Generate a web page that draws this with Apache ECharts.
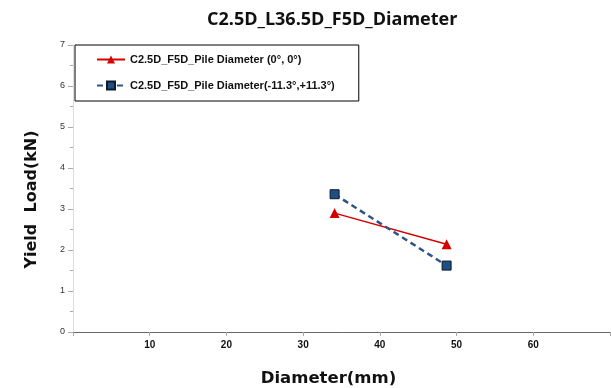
<!DOCTYPE html>
<html><head><meta charset="utf-8">
<script src="https://cdn.jsdelivr.net/npm/echarts@6/dist/echarts.min.js"></script>
<style>html,body{margin:0;padding:0;background:#fff}#c{width:611px;height:388px}</style>
</head><body><div id="c"></div>
<script>
var titleText = 'C2.5D_L36.5D_F5D_Diameter';
var xName = 'Diameter(mm)';
var yName = 'Yield  Load(kN)';
var seriesNames = ['C2.5D_F5D_Pile Diameter (0°, 0°)', 'C2.5D_F5D_Pile Diameter(-11.3°,+11.3°)'];
var diameters = [34.1, 48.7];
var loadFlat = [2.9, 2.14];
var loadInclined = [3.36, 1.62];
var xTicks = [10, 20, 30, 40, 50, 60];

var chart = echarts.init(document.getElementById('c'));
var font = 'Liberation Sans, Arial, sans-serif';
chart.setOption({
  animation: false,
  title: {text: titleText, left: 207, top: 11, padding: 0, textStyle: {fontFamily: 'Open Sans, sans-serif', fontWeight: 'bold', fontSize: 18, color: '#111'}},
  grid: {left: 73, right: 1, top: 45, bottom: 56, containLabel: false, outerBoundsMode: 'none'},
  legend: {
    orient: 'vertical', left: 75, top: 45,
    padding: [9, 24, 10, 21], itemGap: 15, itemWidth: 28, itemHeight: 10,
    borderColor: '#000', borderWidth: 1, borderRadius: 0, backgroundColor: '#fff',
    textStyle: {fontFamily: font, fontWeight: 'bold', fontSize: 11, color: '#111'},
    data: seriesNames
  },
  xAxis: [{
    type: 'value', min: 0, max: 70, interval: 10,
    name: xName, nameLocation: 'middle', nameGap: 38,
    nameTextStyle: {fontFamily: 'DejaVu Sans, sans-serif', fontWeight: 'bold', fontSize: 16.5, color: '#111', padding: [0, 26, 0, 0]},
    axisLine: {lineStyle: {color: '#aaa', width: 1}},
    axisTick: {show: true, length: 4, lineStyle: {color: '#aaa'}},
    axisLabel: {fontFamily: font, fontWeight: 'bold', fontSize: 10, color: '#111', margin: 8,
      formatter: function (v) { return xTicks.indexOf(v) >= 0 ? String(v) : ''; }},
    splitLine: {show: false}
  }, {
    type: 'value', position: 'top', min: 0, max: 70,
    axisLine: {show: true, lineStyle: {color: '#666', width: 1}},
    axisTick: {show: false}, axisLabel: {show: false}, splitLine: {show: false}
  }],
  yAxis: [{
    type: 'value', min: 0, max: 7, interval: 1,
    name: yName, nameLocation: 'middle', nameGap: 33, nameRotate: 90,
    nameTextStyle: {fontFamily: 'DejaVu Sans, sans-serif', fontWeight: 'bold', fontSize: 16, color: '#111', padding: [0, 22, 0, 0]},
    axisLine: {show: true, lineStyle: {color: '#aaa', width: 1}},
    axisTick: {show: true, length: 5, lineStyle: {color: '#aaa'}},
    minorTick: {show: true, splitNumber: 2, length: 3, lineStyle: {color: '#aaa'}},
    axisLabel: {fontFamily: font, fontSize: 9, color: '#333', margin: 8},
    splitLine: {show: false}
  }, {
    type: 'value', position: 'right', min: 0, max: 7,
    axisLine: {show: true, lineStyle: {color: '#ddd', width: 1}},
    axisTick: {show: false}, axisLabel: {show: false}, splitLine: {show: false}
  }],
  series: [{
    name: seriesNames[0], type: 'line',
    data: diameters.map(function (d, i) { return [d, loadFlat[i]]; }),
    symbol: 'triangle', symbolSize: 10,
    itemStyle: {color: '#d40000'},
    lineStyle: {color: '#d40000', width: 1.5}
  }, {
    name: seriesNames[1], type: 'line',
    data: diameters.map(function (d, i) { return [d, loadInclined[i]]; }),
    symbol: 'rect', symbolSize: 9,
    itemStyle: {color: '#1f4e80', borderColor: '#0a1a30', borderWidth: 1},
    lineStyle: {color: '#2d5587', width: 2.5, type: [6, 4]}
  }]
});
</script></body></html>
